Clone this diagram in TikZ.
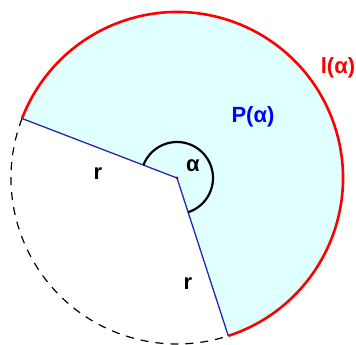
\documentclass[tikz,border=0pt]{standalone}
\usepackage{fontspec}
\setmainfont{Liberation Sans}
\definecolor{sectorcyan}{RGB}{224,255,255}
\definecolor{radiusblue}{RGB}{40,40,170}
\usetikzlibrary{positioning}

\begin{document}
\begin{tikzpicture}[
        x=1pt, y=1pt,
        sector/.style={fill=sectorcyan},
        arclen/.style={draw=red, line width=2.6pt},
        rest/.style={draw=black, line width=1.2pt, dash pattern=on 8pt off 7pt},
        radline/.style={draw=radiusblue, line width=1.3pt},
        anglearc/.style={draw=black, line width=2.2pt},
        label/.style={font=\fontsize{22}{26}\selectfont\bfseries, inner sep=1pt}
    ]
        \useasboundingbox (-177,-167) rectangle (179,178);
        \coordinate (O) at (0,0);
        \coordinate (A) at (159:166);
        \coordinate (B) at (-72:166);

        \fill[sector] (O) -- (B) arc[start angle=-72, end angle=159, radius=166] -- cycle;
        \draw[arclen] (B) arc[start angle=-72, end angle=159, radius=166];
        \draw[rest] (A) arc[start angle=159, end angle=288, radius=166];
        \draw[radline] (O) -- (A);
        \draw[radline] (O) -- (B);
        \draw[anglearc] (-72:36) arc[start angle=-72, end angle=159, radius=36];
        \fill[red!60!black] (O) circle (1.5);

        \node[label] (alpha) at (16,12) {α};
        \node[label, text=blue] (area) at (76,61) {P(α)};
        \node[label, text=red] (length) at (161,110) {l(α)};
        \node[label] (r1) at (-79,4) {r};
        \node[label] (r2) at (11,-106) {r};
    \end{tikzpicture}
\end{document}
